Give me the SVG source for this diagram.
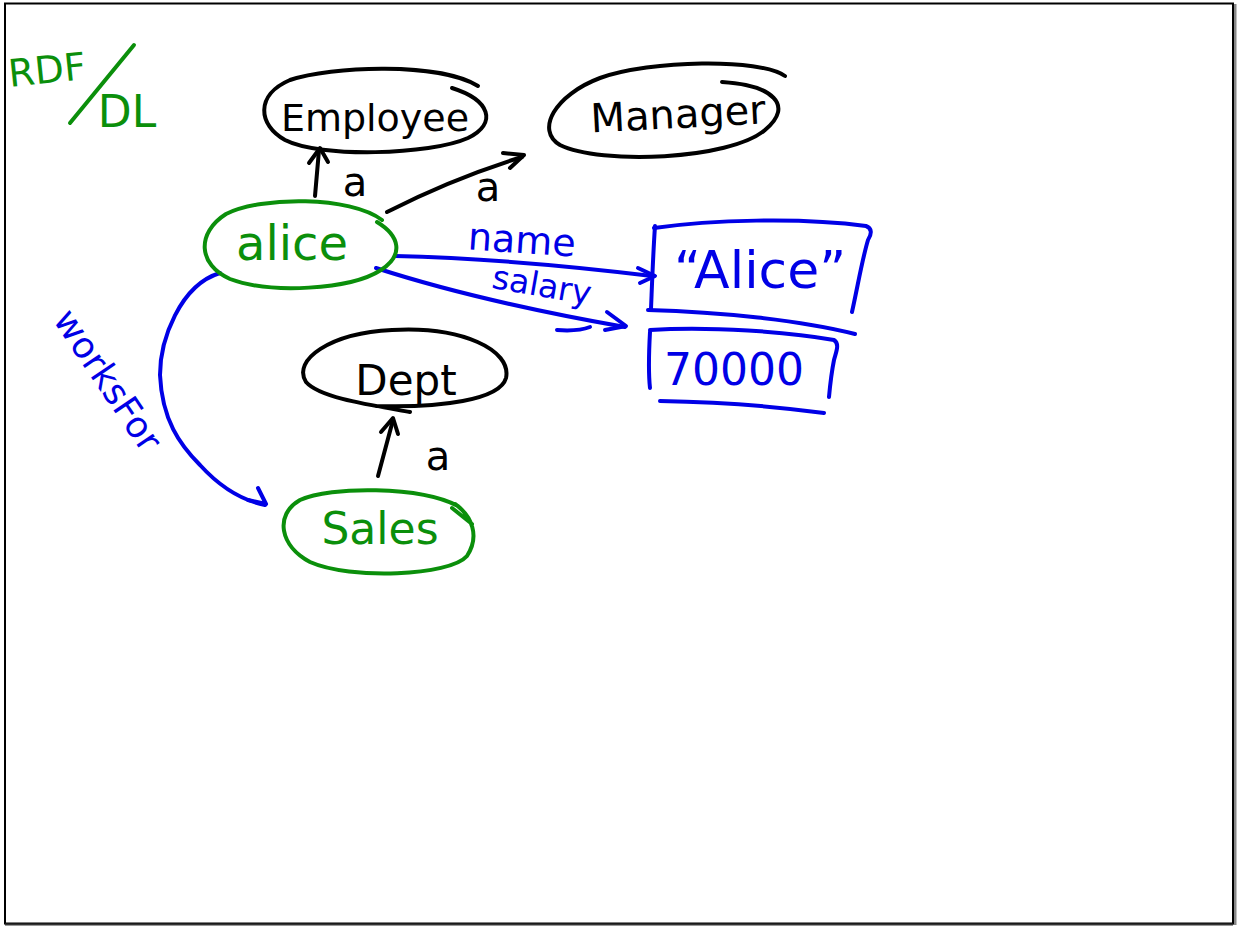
<svg xmlns="http://www.w3.org/2000/svg" width="1238" height="926" viewBox="0 0 1238 926">
  <style>
    .ink { fill: none; stroke-width: 4; stroke-linecap: round; stroke-linejoin: round; }
    .k { stroke: #000; }
    .g { stroke: #0b8f0b; }
    .b { stroke: #0000e6; }
    .t { font-family: "DejaVu Sans", "Liberation Sans", sans-serif; text-anchor: middle; dominant-baseline: central; }
    .tk { fill: #000; }
    .tg { fill: #0b8f0b; }
    .tb { fill: #0000e6; }
  </style>

  <!-- page frame -->
  <rect x="0" y="0" width="1238" height="926" fill="#fff"/>
  <line x1="1235" y1="4" x2="1235" y2="925" stroke="#888" stroke-width="3"/>
  <rect x="5" y="3.5" width="1228" height="920" fill="none" stroke="#000" stroke-width="2"/>
  <line x1="5" y1="924.5" x2="1233" y2="924.5" stroke="#333" stroke-width="2"/>

  <!-- heading -->
  <g id="title">
    <text class="t tg" x="47" y="70" font-size="38" transform="rotate(-6 47 70)">RDF</text>
    <path class="ink g" d="M70,123 L134,45"/>
    <text class="t tg" x="127" y="111" font-size="44">DL</text>
  </g>

  <!-- connectors -->
  <g id="connectors">
    <!-- alice a Employee -->
    <path class="ink k" d="M315,196 L319,150"/>
    <path class="ink k" d="M309,163 L320,148 L328,162"/>
    <!-- alice a Manager -->
    <path class="ink k" d="M387,212 C430,190 480,170 522,157"/>
    <path class="ink k" d="M503,153 L524,155 L510,168"/>
    <!-- name -->
    <path class="ink b" d="M395,256 C480,258 570,266 652,276"/>
    <path class="ink b" d="M638,268 L655,276 L640,283"/>
    <!-- salary -->
    <path class="ink b" d="M376,268 C450,292 540,312 625,327"/>
    <path class="ink b" d="M607,312 L626,326 L605,330"/>
    <path class="ink b" d="M557,330 C570,331 582,330 590,327"/>
    <!-- Sales a Dept -->
    <path class="ink k" d="M378,476 L393,420"/>
    <path class="ink k" d="M381,432 L393,418 L398,434"/>
    <!-- worksFor -->
    <path class="ink b" d="M220,273 C180,285 160,340 160,375 C162,420 180,445 200,465 C220,487 240,500 265,505"/>
    <path class="ink b" d="M258,488 L266,504 L248,500"/>
  </g>

  <!-- edge labels -->
  <g id="labels">
    <text class="t tk" x="355" y="182" font-size="40">a</text>
    <text class="t tk" x="488" y="187" font-size="40">a</text>
    <text class="t tk" x="438" y="456" font-size="40">a</text>
    <text class="t tb" x="522" y="240" font-size="38" transform="rotate(4 522 240)">name</text>
    <text class="t tb" x="542" y="285" font-size="33" transform="rotate(10 542 285)">salary</text>
    <text class="t tb" x="108" y="380" font-size="36" transform="rotate(56 108 380)">worksFor</text>
  </g>

  <!-- class nodes -->
  <g id="employee">
    <path class="ink k" d="M478,86 C440,62 330,66 290,80 C255,95 258,125 285,140 C320,158 430,155 468,138 C498,123 490,100 452,88"/>
    <text class="t tk" x="375" y="118" font-size="38">Employee</text>
  </g>
  <g id="manager">
    <path class="ink k" d="M785,76 C760,58 650,60 600,78 C555,95 535,130 560,145 C600,165 730,160 765,130 C795,105 772,85 722,82"/>
    <text class="t tk" x="678" y="114" font-size="40" transform="rotate(-3 678 114)">Manager</text>
  </g>
  <g id="dept">
    <path class="ink k" d="M410,412 C370,405 320,398 306,382 C292,360 330,333 392,330 C462,326 512,350 506,378 C500,400 440,408 376,406"/>
    <text class="t tk" x="406" y="380" font-size="42">Dept</text>
  </g>

  <!-- individual nodes -->
  <g id="alice">
    <path class="ink g" d="M382,220 C350,196 262,196 226,214 C196,233 198,265 230,279 C270,294 350,290 381,270 C404,255 400,236 377,222"/>
    <text class="t tg" x="292" y="243" font-size="48">alice</text>
  </g>
  <g id="sales">
    <path class="ink g" d="M458,506 C420,486 330,486 300,500 C274,515 280,546 310,562 C350,580 450,576 467,556 C480,536 472,516 455,504 M452,508 L472,524"/>
    <text class="t tg" x="380" y="528" font-size="44">Sales</text>
  </g>

  <!-- literal values -->
  <g id="literal-name">
    <path class="ink b" d="M654,228 C710,220 800,217 866,226 C872,228 872,234 868,240 C862,260 858,285 852,312"/>
    <path class="ink b" d="M655,226 C653,255 652,285 651,309"/>
    <path class="ink b" d="M648,310 C720,312 800,320 855,334"/>
    <text class="t tb" x="760" y="270" font-size="52">“Alice”</text>
  </g>
  <g id="literal-salary">
    <path class="ink b" d="M650,330 C710,326 790,332 834,340 C840,344 836,352 834,360 C831,375 830,386 829,397"/>
    <path class="ink b" d="M650,332 C649,350 648,370 650,388"/>
    <path class="ink b" d="M660,401 C720,402 780,407 824,413"/>
    <text class="t tb" x="734" y="369" font-size="44">70000</text>
  </g>
</svg>
